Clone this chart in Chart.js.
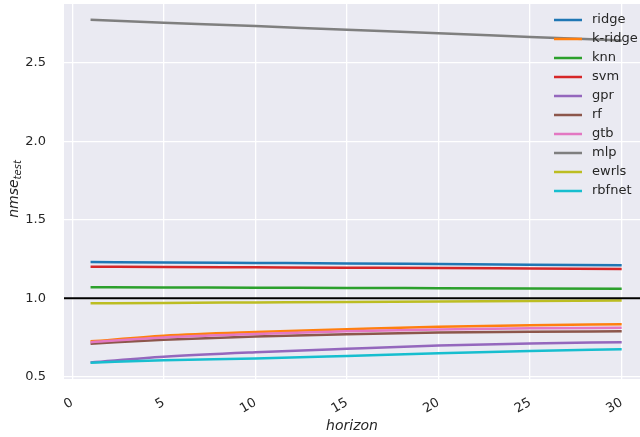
<!DOCTYPE html>
<html>
<head>
<meta charset="utf-8">
<script src="https://cdn.jsdelivr.net/npm/chart.js@4"></script>
<style>
  html, body { margin: 0; padding: 0; background: #fff; }
  #wrap { width: 640px; height: 437px; }
</style>
</head>
<body>
<div id="wrap"><canvas id="nmseChart" width="640" height="437"></canvas></div>
<script>
// horizons
const horizons = [1, 5, 10, 15, 20, 25, 30];

const ridge  = [1.231, 1.228, 1.225, 1.222, 1.218, 1.214, 1.210];
const kRidge = [0.725, 0.761, 0.785, 0.802, 0.818, 0.828, 0.834];
const knn    = [1.070, 1.069, 1.067, 1.066, 1.064, 1.062, 1.060];
const svm    = [1.201, 1.199, 1.197, 1.195, 1.193, 1.190, 1.187];
const gpr    = [0.591, 0.627, 0.656, 0.678, 0.698, 0.712, 0.720];
const rf     = [0.710, 0.735, 0.756, 0.771, 0.781, 0.787, 0.789];
const gtb    = [0.720, 0.750, 0.772, 0.789, 0.800, 0.808, 0.812];
const mlp    = [2.775, 2.757, 2.735, 2.712, 2.690, 2.666, 2.643];
const ewrls  = [0.968, 0.970, 0.973, 0.976, 0.979, 0.982, 0.985];
const rbfnet = [0.589, 0.604, 0.616, 0.632, 0.649, 0.664, 0.675];

const seriesNames = ['ridge', 'k-ridge', 'knn', 'svm', 'gpr', 'rf', 'gtb', 'mlp', 'ewrls', 'rbfnet'];
const seriesValues = [ridge, kRidge, knn, svm, gpr, rf, gtb, mlp, ewrls, rbfnet];
const seriesColors = ['#1f77b4', '#ff7f0e', '#2ca02c', '#d62728', '#9467bd',
                      '#8c564b', '#e377c2', '#7f7f7f', '#bcbd22', '#17becf'];

const xTicks = [0, 5, 10, 15, 20, 25, 30];
const yTicks = [0.5, 1.0, 1.5, 2.0, 2.5];
const referenceLevel = 1.0;

Chart.defaults.font.family = "'DejaVu Sans', sans-serif";
Chart.defaults.color = '#262626';

const datasets = seriesNames.map((name, i) => ({
    label: name,
    data: horizons.map((h, j) => ({ x: h, y: seriesValues[i][j] })),
    borderColor: seriesColors[i],
    backgroundColor: seriesColors[i],
    borderWidth: 2.5,
    pointRadius: 0,
    cubicInterpolationMode: 'monotone',
    fill: false,
    order: seriesNames.length - i
}));

// grey plot background, like seaborn darkgrid
const plotBackground = {
    id: 'plotBackground',
    beforeDraw(chart) {
        const { ctx, chartArea: a } = chart;
        ctx.save();
        ctx.fillStyle = '#eaeaf2';
        ctx.fillRect(a.left, a.top, a.right - a.left, a.bottom - a.top);
        ctx.restore();
    }
};

// black line at nmse = 1
const referenceLine = {
    id: 'referenceLine',
    afterDatasetsDraw(chart) {
        const { ctx, chartArea: a, scales } = chart;
        const y = scales.y.getPixelForValue(referenceLevel);
        ctx.save();
        ctx.strokeStyle = '#000';
        ctx.lineWidth = 2;
        ctx.beginPath();
        ctx.moveTo(a.left, y);
        ctx.lineTo(a.right, y);
        ctx.stroke();
        ctx.restore();
    }
};

// legend inside the plot, top right, no frame
const innerLegend = {
    id: 'innerLegend',
    afterDraw(chart) {
        const { ctx } = chart;
        ctx.save();
        ctx.font = "13px 'DejaVu Sans'";
        ctx.textBaseline = 'middle';
        chart.data.datasets.forEach((ds, i) => {
            const y = 20 + i * 19;
            ctx.strokeStyle = ds.borderColor;
            ctx.lineWidth = 2.5;
            ctx.beginPath();
            ctx.moveTo(554, y);
            ctx.lineTo(582, y);
            ctx.stroke();
            ctx.fillStyle = '#262626';
            ctx.fillText(ds.label, 592, y);
        });
        ctx.restore();
    }
};

// y axis title with subscript
const yTitle = {
    id: 'yTitle',
    afterDraw(chart) {
        const { ctx } = chart;
        const main = 'nmse', sub = 'test';
        ctx.save();
        ctx.translate(18, 189);
        ctx.rotate(-Math.PI / 2);
        ctx.font = "italic 14px 'DejaVu Sans'";
        const w1 = ctx.measureText(main).width;
        ctx.font = "italic 10px 'DejaVu Sans'";
        const w2 = ctx.measureText(sub).width;
        const start = -(w1 + w2) / 2;
        ctx.fillStyle = '#262626';
        ctx.textBaseline = 'alphabetic';
        ctx.font = "italic 14px 'DejaVu Sans'";
        ctx.fillText(main, start, 0);
        ctx.font = "italic 10px 'DejaVu Sans'";
        ctx.fillText(sub, start + w1, 3);
        ctx.restore();
    }
};

new Chart(document.getElementById('nmseChart'), {
    type: 'line',
    data: { datasets },
    plugins: [plotBackground, referenceLine, innerLegend, yTitle],
    options: {
        responsive: false,
        animation: false,
        layout: { padding: { left: 0, right: 0, top: 4, bottom: 0 } },
        plugins: {
            legend: { display: false },
            tooltip: { enabled: false }
        },
        scales: {
            x: {
                type: 'linear',
                min: -0.45,
                max: 31.0,
                afterFit: (scale) => {
                    scale.height = 58;
                    scale.paddingLeft = 0;
                    scale.paddingRight = 0;
                },
                afterBuildTicks: (scale) => { scale.ticks = xTicks.map(v => ({ value: v })); },
                ticks: {
                    includeBounds: false,
                    minRotation: 30,
                    maxRotation: 30,
                    padding: 16,
                    font: { size: 13 },
                    color: '#262626',
                    callback: (v) => String(v)
                },
                grid: { color: '#ffffff', lineWidth: 1.3, drawTicks: false },
                border: { display: false },
                title: {
                    display: true,
                    text: 'horizon',
                    font: { size: 14, style: 'italic' },
                    color: '#262626',
                    padding: { top: 0, bottom: 2 }
                }
            },
            y: {
                min: 0.485,
                max: 2.876,
                afterFit: (scale) => {
                    scale.width = 64;
                    scale.paddingTop = 0;
                    scale.paddingBottom = 0;
                },
                afterBuildTicks: (scale) => { scale.ticks = yTicks.map(v => ({ value: v })); },
                ticks: {
                    includeBounds: false,
                    padding: 18,
                    font: { size: 13 },
                    color: '#262626',
                    callback: (v) => v.toFixed(1)
                },
                grid: { color: '#ffffff', lineWidth: 1.3, drawTicks: false },
                border: { display: false }
            }
        }
    }
});
</script>
</body>
</html>
